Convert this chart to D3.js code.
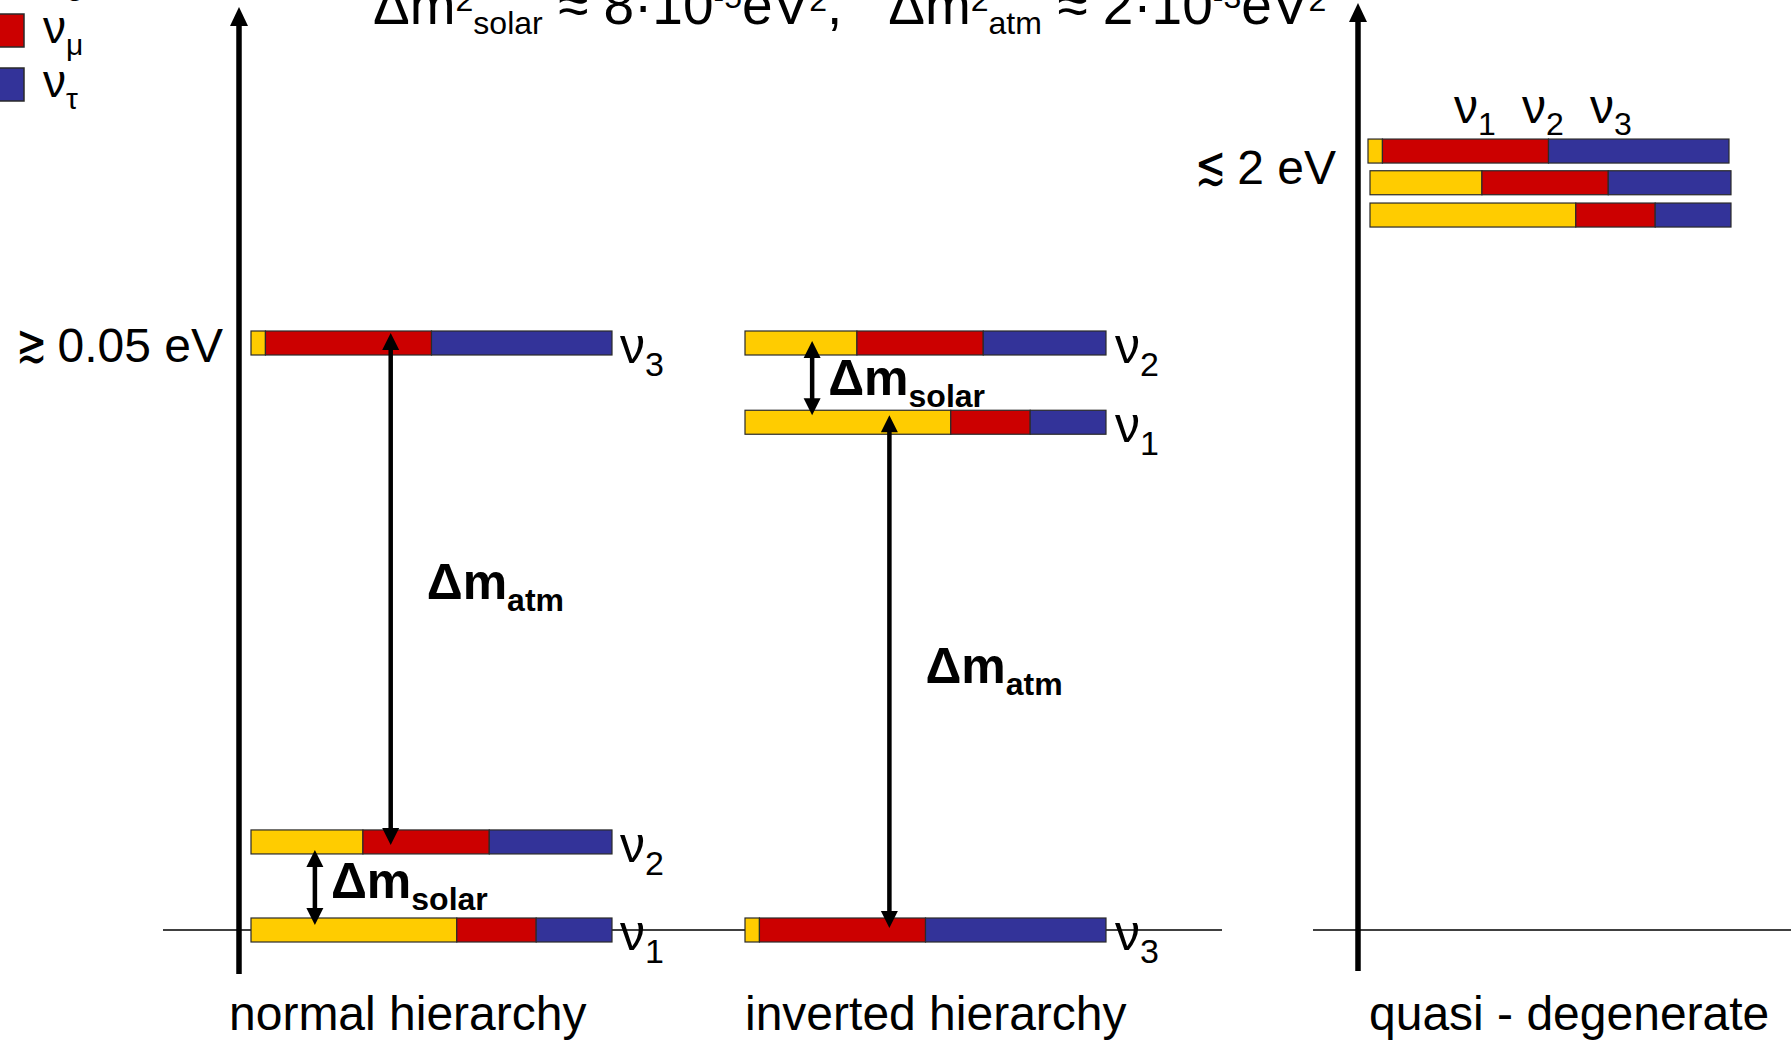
<!DOCTYPE html>
<html>
<head>
<meta charset="utf-8">
<script src="https://cdn.jsdelivr.net/npm/d3@7"></script>
<style>
  body { margin: 0; background: #fff; }
  svg { display: block; }
  text { font-family: "Liberation Sans", Arial, sans-serif; white-space: pre; }
</style>
</head>
<body>
<div id="container"></div>
<script>
// flavour content of each mass state (fraction of the bar)
var flavours = ['e', 'μ', 'τ'];
var flavourColours = ['#FFCC00', '#CC0000', '#333399'];
var massStates = ['1', '2', '3'];
var mixing = [
    [0.57, 0.22, 0.21],   // ν1
    [0.31, 0.35, 0.34],   // ν2
    [0.04, 0.46, 0.50]    // ν3
];

// schematic mass of ν1, ν2, ν3 for each scenario (ν3 of normal = 1)
var normalLevels = [0, 0.15, 1.0];
var invertedLevels = [0.865, 1.0, 0];
var quasiLevels = [1.218, 1.273, 1.327];

var scenarioNames = ['normal hierarchy', 'inverted hierarchy', 'quasi - degenerate'];
var massLabels = [['≳', '0.05 eV'], ['≲', '2 eV']];

//Width and height
var w = 1791;
var h = 1040;
var barW = 361;
var barH = 24;

var svg = d3.select('#container')
    .append('svg')
    .attr('width', w)
    .attr('height', h);

// vertical (schematic mass) scale shared by the three panels
var y = d3.scaleLinear()
    .domain([0, 1])
    .range([930, 343]);

//write text made of normal / sub / sup pieces
function richText(g, x, yb, parts, anchor, weight) {
    var t = g.append('text')
        .attr('x', x)
        .attr('y', yb)
        .attr('text-anchor', anchor || 'start')
        .style('font-weight', weight || 'normal');
    var shift = 0;
    parts.forEach(function(p) {
        var target = p.off || 0;
        t.append('tspan')
            .attr('dy', target - shift)
            .style('font-size', p.size + 'px')
            .text(p.t);
        shift = target;
    });
    return t;
}

function nuLabel(g, x, yb, sub, big, small) {
    richText(g, x, yb, [
        { t: 'ν', size: big },
        { t: sub, size: small, off: big * 0.26 }
    ]);
}

function arrowHead(g, x, yTip, dir, hw, len) {
    // dir = -1 points up, +1 points down
    g.append('path')
        .attr('d', 'M' + x + ',' + yTip +
            'L' + (x - hw) + ',' + (yTip - dir * len) +
            'L' + (x + hw) + ',' + (yTip - dir * len) + 'Z')
        .attr('fill', 'black');
}

function doubleArrow(g, x, yTop, yBot) {
    g.append('line')
        .attr('x1', x).attr('x2', x)
        .attr('y1', yTop + 12).attr('y2', yBot - 12)
        .attr('stroke', 'black')
        .attr('stroke-width', 4.5);
    arrowHead(g, x, yTop, -1, 8.5, 17);
    arrowHead(g, x, yBot, 1, 8.5, 17);
}

function axis(g, x, yTop, yBot) {
    g.append('line')
        .attr('x1', x).attr('x2', x)
        .attr('y1', yBot).attr('y2', yTop + 14)
        .attr('stroke', 'black')
        .attr('stroke-width', 5.5);
    arrowHead(g, x, yTop, -1, 9, 19);
}

//one coloured bar per mass state
function massBar(g, x0, yc, i, shiftX) {
    var x = d3.scaleLinear().domain([0, 1]).range([x0 + (shiftX || 0), x0 + (shiftX || 0) + barW]);
    var ends = d3.cumsum(mixing[i]);
    var bar = g.append('g');
    bar.selectAll('rect')
        .data(mixing[i])
        .enter()
        .append('rect')
        .attr('x', function(d, k) { return x(ends[k] - d); })
        .attr('width', function(d) { return x(d) - x(0); })
        .attr('y', yc - barH / 2)
        .attr('height', barH)
        .attr('fill', function(d, k) { return flavourColours[k]; })
        .attr('stroke', '#2a2a2a')
        .attr('stroke-width', 1.2);
}

//mass label: squeezed relation sign + value
function massLabel(g, xSym, xEnd, yb, lab) {
    g.append('text')
        .attr('x', xSym).attr('y', yb)
        .attr('textLength', 31)
        .attr('lengthAdjust', 'spacingAndGlyphs')
        .style('font-size', '54px')
        .text(lab[0]);
    g.append('text')
        .attr('x', xEnd).attr('y', yb)
        .attr('text-anchor', 'end')
        .style('font-size', '48px')
        .text(lab[1]);
}

//baselines
svg.append('line')
    .attr('x1', 163).attr('x2', 1222)
    .attr('y1', y(0)).attr('y2', y(0))
    .attr('stroke', 'black').attr('stroke-width', 1.5);
svg.append('line')
    .attr('x1', 1313).attr('x2', w)
    .attr('y1', y(0)).attr('y2', y(0))
    .attr('stroke', 'black').attr('stroke-width', 1.5);

//axes
axis(svg, 239, 7, 974);
axis(svg, 1358, 3, 971);

//normal hierarchy
var nX = 251;
normalLevels.forEach(function(l, i) {
    massBar(svg, nX, y(l), i);
    nuLabel(svg, nX + barW + 8, y(l) + 20, massStates[i], 50, 34);
});

//inverted hierarchy
var iX = 745;
invertedLevels.forEach(function(l, i) {
    massBar(svg, iX, y(l), i);
    nuLabel(svg, iX + barW + 9, y(l) + 20, massStates[i], 50, 34);
});

//quasi degenerate
var qX = 1370;
quasiLevels.forEach(function(l, i) {
    massBar(svg, qX, y(l), i, i === 2 ? -2 : 0);
    nuLabel(svg, qX + 84 + i * 68, 123, massStates[i], 48, 32);
});

//splittings
function splitting(x, upper, lower, tipUp, tipLow, name, isAtm) {
    doubleArrow(svg, x, y(upper) + tipUp, y(lower) + tipLow);
    var mid = (y(upper) + y(lower)) / 2;
    richText(svg, x + (isAtm ? 36 : 16), mid + (isAtm ? 7 : 12), [
        { t: 'Δm', size: 50 },
        { t: name, size: 32, off: 12 }
    ], 'start', 'bold');
}
splitting(nX + 0.387 * barW, normalLevels[2], normalLevels[1], -10, 3, 'atm', true);
splitting(nX + 0.177 * barW, normalLevels[1], normalLevels[0], 8, -5, 'solar', false);
splitting(iX + 0.186 * barW, invertedLevels[1], invertedLevels[0], -2, -7, 'solar', false);
splitting(iX + 0.40 * barW, invertedLevels[0], invertedLevels[2], -7, -2, 'atm', true);

//mass scale labels
massLabel(svg, 16, 223, y(normalLevels[2]) + 19, massLabels[0]);
massLabel(svg, 1195, 1336, (y(quasiLevels[2]) + y(quasiLevels[1])) / 2 + 17, massLabels[1]);

//scenario names
var nameX = [229, 745, 1369];
scenarioNames.forEach(function(n, i) {
    svg.append('text')
        .attr('x', nameX[i]).attr('y', 1030)
        .style('font-size', '48px')
        .text(n);
});

//legend (top entry runs off the page)
flavours.forEach(function(f, k) {
    var cy = 30.5 + (k - 1) * 54;
    svg.append('rect')
        .attr('x', -12).attr('y', cy - 16.5)
        .attr('width', 36).attr('height', 33)
        .attr('fill', flavourColours[k])
        .attr('stroke', '#2a2a2a').attr('stroke-width', 1.5);
    nuLabel(svg, 43, cy + 12.5, f, 46, 30);
});

//title (top of it is cut by the page edge)
var big = 55, small = 32;
richText(svg, 373, 24, [
    { t: 'Δm', size: big },
    { t: '2', size: small, off: -13 },
    { t: 'solar', size: small, off: 10 },
    { t: ' ≈ 8·10', size: big },
    { t: '-5', size: small, off: -16 },
    { t: 'eV', size: big },
    { t: '2', size: small, off: -13 },
    { t: ',   Δm', size: big },
    { t: '2', size: small, off: -13 },
    { t: 'atm', size: small, off: 10 },
    { t: ' ≈ 2·10', size: big },
    { t: '-3', size: small, off: -16 },
    { t: 'eV', size: big },
    { t: '2', size: small, off: -13 }
]);
</script>
</body>
</html>
